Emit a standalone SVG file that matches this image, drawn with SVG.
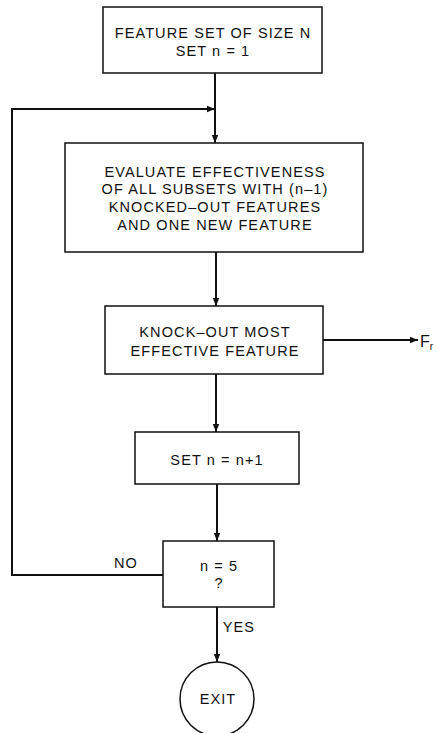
<svg xmlns="http://www.w3.org/2000/svg" width="437" height="733" viewBox="0 0 437 733">
<style>
.box{fill:#fff;stroke:#111;stroke-width:1.5}
.t{font-family:"Liberation Sans",Arial,sans-serif;font-size:14.5px;fill:#111;text-anchor:middle;letter-spacing:1.1px}
.c{fill:none;stroke:#111;stroke-width:2}
</style>
<defs>
<marker id="ah" viewBox="0 0 10 10" refX="10" refY="5" markerWidth="10" markerHeight="8" markerUnits="userSpaceOnUse" orient="auto">
<path d="M0,1 L10,5 L0,9 Z" fill="#111"/>
</marker>
</defs>
<g id="connectors">
<line class="c" x1="215" y1="73" x2="215" y2="143" marker-end="url(#ah)"/>
<polyline class="c" points="163,575 12,575 12,109 215,109" marker-end="url(#ah)"/>
<line class="c" x1="216" y1="252" x2="216" y2="306" marker-end="url(#ah)"/>
<line class="c" x1="323" y1="340" x2="418" y2="340" marker-end="url(#ah)"/>
<line class="c" x1="216" y1="374" x2="216" y2="432" marker-end="url(#ah)"/>
<line class="c" x1="217" y1="484" x2="217" y2="541" marker-end="url(#ah)"/>
<line class="c" x1="217" y1="607" x2="217" y2="662" marker-end="url(#ah)"/>
<text class="t" x="126" y="568">NO</text>
<text class="t" x="239" y="632">YES</text>
<text class="t" x="420" y="347" style="font-size:16px;text-anchor:start;letter-spacing:0">F<tspan style="font-size:10px" dy="3">r</tspan></text>
</g>
<g id="start">
<rect class="box" x="103" y="7" width="219" height="66"/>
<text class="t" x="213" y="38">FEATURE SET OF SIZE N</text>
<text class="t" x="213" y="56">SET n = 1</text>
</g>
<g id="evaluate">
<rect class="box" x="65" y="143" width="298" height="109"/>
<text class="t" x="215" y="177">EVALUATE EFFECTIVENESS</text>
<text class="t" x="215" y="194">OF ALL SUBSETS WITH (n–1)</text>
<text class="t" x="215" y="212">KNOCKED–OUT FEATURES</text>
<text class="t" x="215" y="230">AND ONE NEW FEATURE</text>
</g>
<g id="knockout">
<rect class="box" x="105" y="306" width="218" height="68"/>
<text class="t" x="215" y="337">KNOCK–OUT MOST</text>
<text class="t" x="215" y="356">EFFECTIVE FEATURE</text>
</g>
<g id="increment">
<rect class="box" x="135" y="432" width="164" height="52"/>
<text class="t" x="217" y="465">SET n = n+1</text>
</g>
<g id="decision">
<rect class="box" x="163" y="541" width="111" height="66"/>
<text class="t" x="219" y="571">n = 5</text>
<text class="t" x="219" y="588">?</text>
</g>
<g id="exit">
<circle class="box" cx="217" cy="699" r="37"/>
<text class="t" x="218" y="704">EXIT</text>
</g>
</svg>
